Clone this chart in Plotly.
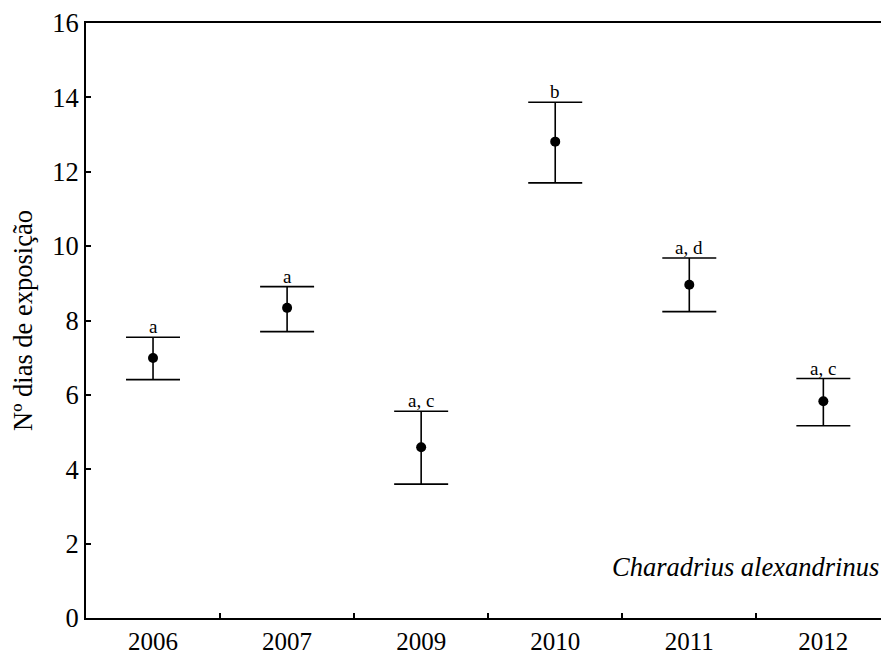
import plotly.graph_objects as go

years = ["2006", "2007", "2009", "2010", "2011", "2012"]
means = [6.99, 8.34, 4.59, 12.81, 8.96, 5.83]
upper = [7.55, 8.91, 5.56, 13.87, 9.68, 6.44]
lower = [6.41, 7.70, 3.60, 11.70, 8.24, 5.17]
groups = ["a", "a", "a, c", "b", "a, d", "a, c"]
yticks = [0, 2, 4, 6, 8, 10, 12, 14, 16]
species = "Charadrius alexandrinus"
ytitle = "Nº dias de exposição"

FONT = "Liberation Serif"

err_plus = [u - m for u, m in zip(upper, means)]
err_minus = [m - l for m, l in zip(means, lower)]

fig = go.Figure()
fig.add_trace(go.Scatter(
    x=years, y=means, mode="markers",
    marker=dict(color="black", size=10),
    error_y=dict(type="data", symmetric=False, array=err_plus, arrayminus=err_minus,
                 color="black", thickness=1.6, width=27),
    showlegend=False,
))

for i, (u, g) in enumerate(zip(upper, groups)):
    fig.add_annotation(x=i, y=u, xref="x", yref="y", text=g, showarrow=False,
                       yanchor="bottom", yshift=-2,
                       font=dict(family=FONT, size=19, color="black"))

fig.add_annotation(x=1, xref="paper", xanchor="right", y=0.085, yref="paper",
                   yanchor="middle", text="<i>" + species + "</i>", showarrow=False,
                   xshift=0, font=dict(family=FONT, size=26.5, color="black"))

fig.update_layout(
    width=881, height=657,
    margin=dict(l=86, r=0, t=23, b=39),
    paper_bgcolor="white", plot_bgcolor="white",
    font=dict(family=FONT, size=26.5, color="black"),
    xaxis=dict(type="category", range=[-0.5, 5.43], showline=True, linecolor="black",
               linewidth=2, mirror=True, ticks="inside", tickson="boundaries",
               ticklen=5, tickwidth=1.5, tickcolor="black", showgrid=False,
               automargin=False, tickfont=dict(family=FONT, size=25)),
    yaxis=dict(range=[0, 16], tickvals=yticks, showline=True, linecolor="black",
               linewidth=2, ticks="inside", ticklen=5, tickwidth=1.5, tickcolor="black",
               showgrid=False, zeroline=False, automargin=False,
               title=dict(text=ytitle, font=dict(family=FONT, size=26.5), standoff=12),
               tickfont=dict(family=FONT, size=26.5)),
)

fig.write_html("out.html")
